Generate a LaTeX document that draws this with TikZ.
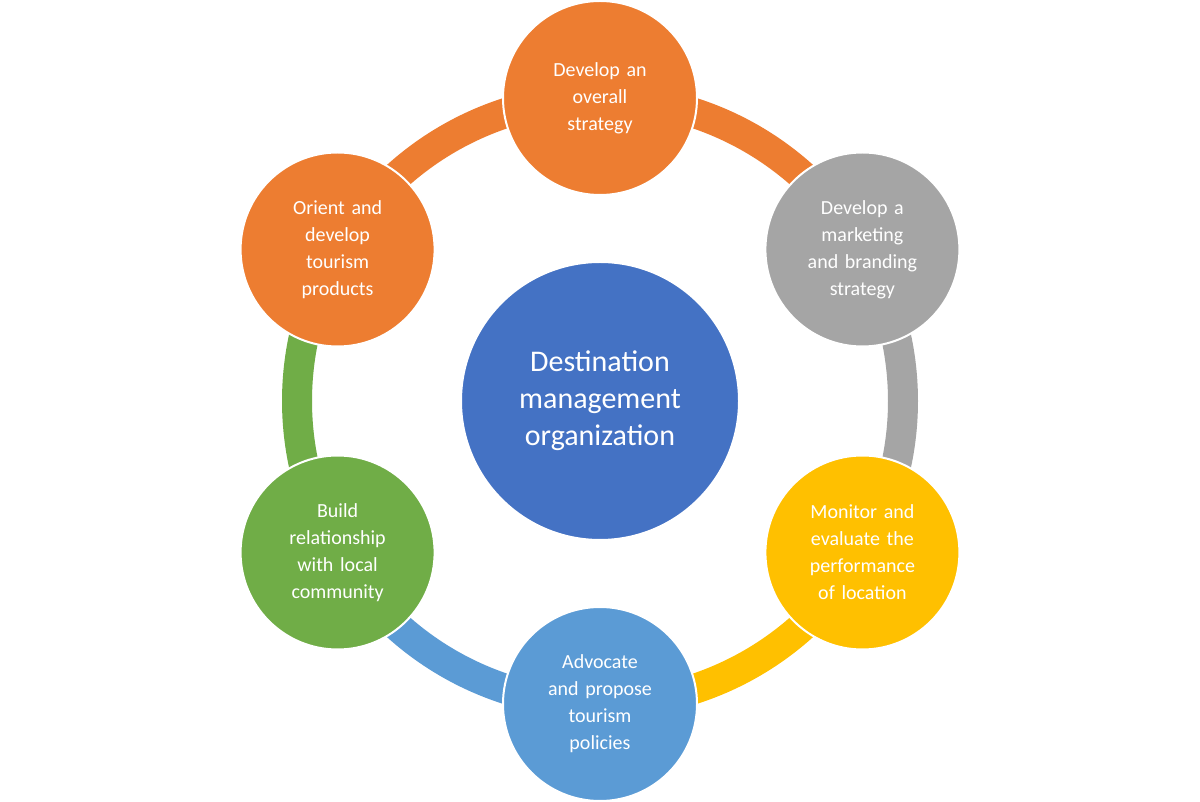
\documentclass[tikz,border=0pt]{standalone}
\usetikzlibrary{calc}
\usepackage{fontspec}
\setmainfont{Carlito}
\definecolor{cor}{HTML}{ED7D31}
\definecolor{cgr}{HTML}{A5A5A5}
\definecolor{cye}{HTML}{FFC000}
\definecolor{cbl}{HTML}{5B9BD5}
\definecolor{cgn}{HTML}{70AD47}
\definecolor{cce}{HTML}{4472C4}
\begin{document}
\begin{tikzpicture}[x=1pt,y=1pt,
 outer/.style={circle,draw=white,line width=2pt,minimum size=194pt,inner sep=0pt,text=white,align=center,text width=150pt,font=\fontsize{20}{27}\selectfont},
 seg/.style={line width=30pt}]
\useasboundingbox[fill=white] (0,0) rectangle (1200,801);
\coordinate (c) at (600,400);
\foreach \a/\b/\col in {90/30/cor,30/-30/cgr,-30/-90/cye,-90/-150/cbl,-150/-210/cgn,-210/-270/cor}
  \draw[seg,\col] (c) ++(\a:303) arc[start angle=\a,end angle=\b,radius=303];
\node[circle,fill=cce,draw=white,line width=2pt,minimum size=278pt,text=white,align=center,font=\fontsize{30}{37}\selectfont] (center) at (c) {Destination\\management\\organization};
\node[outer,fill=cor] (n1) at ($(c)+(90:303)$) {Develop an\\overall\\strategy};
\node[outer,fill=cgr] (n2) at ($(c)+(30:303)$) {Develop a\\marketing\\and branding\\strategy};
\node[outer,fill=cye] (n3) at ($(c)+(-30:303)$) {Monitor and\\evaluate the\\performance\\of location};
\node[outer,fill=cbl] (n4) at ($(c)+(-90:303)$) {Advocate\\and propose\\tourism\\policies};
\node[outer,fill=cgn] (n5) at ($(c)+(-150:303)$) {Build\\relationship\\with local\\community};
\node[outer,fill=cor] (n6) at ($(c)+(150:303)$) {Orient and\\develop\\tourism\\products};
\end{tikzpicture}
\end{document}
